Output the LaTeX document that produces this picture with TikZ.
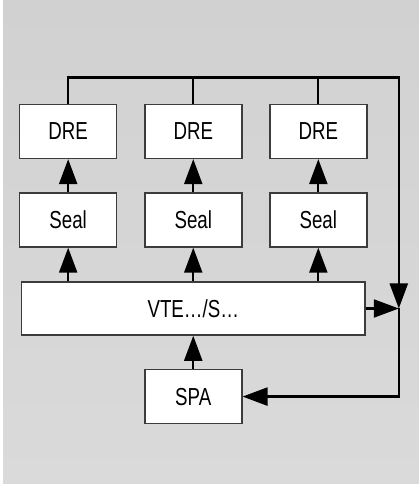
\documentclass[tikz,border=0pt]{standalone}
\usepackage{fontspec}
\setmainfont[FakeStretch=0.76]{Liberation Sans}
\usepackage{tikz}
\usetikzlibrary{arrows.meta, positioning, calc}
\definecolor{bgtop}{RGB}{209,209,209}
\definecolor{bgbot}{RGB}{218,218,218}
\definecolor{boxline}{RGB}{60,60,60}
\tikzstyle{arrow} = [line width=1.3pt,-{Triangle[length=0.5cm,width=0.36cm]}]
\tikzstyle{wire} = [line width=1.3pt]

\begin{document}
\begin{tikzpicture}[
    unit/.style={rectangle, draw=boxline, line width=0.9pt, fill=white, minimum width=1.94cm, minimum height=1.08cm, inner sep=0pt, font=\fontsize{14}{16}\selectfont},
    busbox/.style={unit, minimum width=6.87cm, minimum height=1.06cm},
    node distance=0.67cm and 0.53cm
  ]
    % background
    \shade[top color=bgtop, bottom color=bgbot] (-3.865,-3.51) rectangle (4.515,6.17);
    \fill[white] (-3.865,-3.51) rectangle (-3.805,6.17);
    \useasboundingbox (-3.865,-3.51) rectangle (4.515,6.17);

    % Blocks
    \node[busbox] (vte) at (0,0) {VTE…/S…};
    \node[unit, above=of vte] (seal2) {Seal};
    \node[unit, left=of seal2] (seal1) {Seal};
    \node[unit, right=of seal2] (seal3) {Seal};
    \node[unit, above=0.66cm of seal1] (dre1) {DRE};
    \node[unit, above=0.66cm of seal2] (dre2) {DRE};
    \node[unit, above=0.66cm of seal3] (dre3) {DRE};
    \node[unit, below=0.66cm of vte] (spa) {SPA};

    % Feedback path
    \coordinate (junc) at ($(vte.east)+(0.66,0)$);
    \coordinate (bus) at ($(dre3.north)+(0,0.52)$);

    % Arrows
    \foreach \i in {1,2,3} {
      \draw[arrow] (seal\i) -- (dre\i);
      \draw[arrow] (vte.north -| seal\i) -- (seal\i);
    }
    \draw[arrow] (spa) -- (vte);
    \draw[arrow] (dre1.north) |- (bus -| junc) -- (junc);
    \draw[wire] (dre2.north) -- (dre2.north |- bus);
    \draw[wire] (dre3.north) -- (bus);
    \draw[arrow] (vte) -- (junc);
    \draw[arrow] (junc) |- (spa.east);
  \end{tikzpicture}
\end{document}
